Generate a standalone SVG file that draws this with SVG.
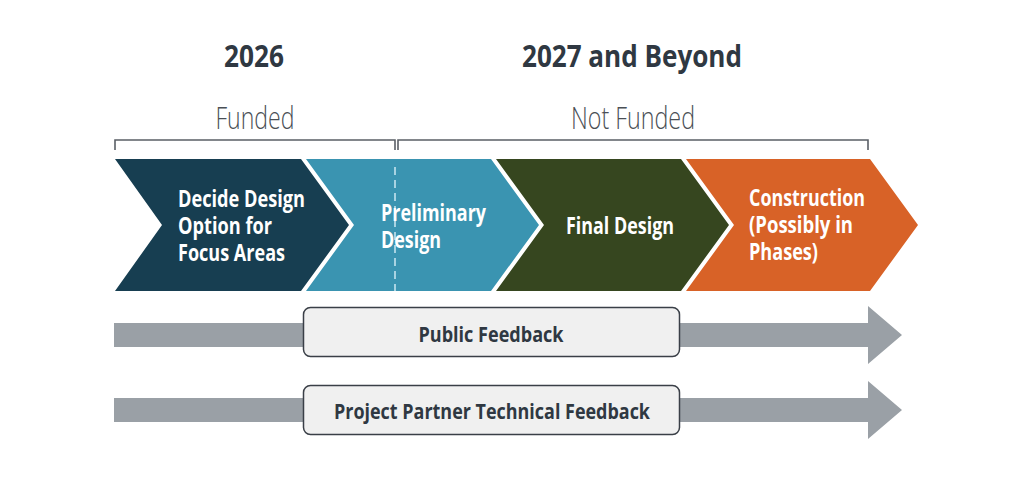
<svg xmlns="http://www.w3.org/2000/svg" width="1024" height="478" viewBox="0 0 1024 478">
<style>
.hd{font-family:"Open Sans","Liberation Sans",sans-serif;font-weight:700;font-size:30px;fill:#2f3842;text-anchor:middle}
.sub{font-family:"Open Sans","Liberation Sans",sans-serif;font-weight:300;font-size:31px;fill:#4a4f55;text-anchor:middle}
.ct{font-family:"Open Sans","Liberation Sans",sans-serif;font-weight:700;font-size:23px;fill:#ffffff}
.bt{font-family:"Open Sans","Liberation Sans",sans-serif;font-weight:700;font-size:22px;fill:#2f3842;text-anchor:middle}
.br{fill:none;stroke:#5a5f66;stroke-width:1.6}
.arr{fill:#9aa0a6}
.box{fill:#f0f0f0;stroke:#3a3f47;stroke-width:1.5}
</style>
<rect width="1024" height="478" fill="#ffffff"/>
<g id="headers">
<text class="hd" x="254" y="67" textLength="60" lengthAdjust="spacingAndGlyphs">2026</text>
<text class="hd" x="632" y="67" textLength="220" lengthAdjust="spacingAndGlyphs">2027 and Beyond</text>
<text class="sub" x="255" y="129" textLength="79" lengthAdjust="spacingAndGlyphs">Funded</text>
<text class="sub" x="633" y="129" textLength="124" lengthAdjust="spacingAndGlyphs">Not Funded</text>
</g>
<g id="brackets">
<path class="br" d="M115,150 V140 H395 V150"/>
<path class="br" d="M398,150 V140 H868 V150"/>
</g>
<g id="step1">
<polygon points="115,159 301,159 349,225 301,291 115,291 162,225" fill="#173e51"/>
<text class="ct" x="178" y="207" textLength="127" lengthAdjust="spacingAndGlyphs">Decide Design</text>
<text class="ct" x="178" y="234" textLength="94" lengthAdjust="spacingAndGlyphs">Option for</text>
<text class="ct" x="178" y="261" textLength="107" lengthAdjust="spacingAndGlyphs">Focus Areas</text>
</g>
<g id="step2">
<polygon points="306,159 491,159 539,225 491,291 306,291 354,225" fill="#3a94b1"/>
<line x1="395" y1="167" x2="395" y2="291" stroke="#a8d3e2" stroke-width="2" stroke-dasharray="8,5"/>
<text class="ct" x="381" y="221" textLength="105" lengthAdjust="spacingAndGlyphs">Preliminary</text>
<text class="ct" x="381" y="248" textLength="60" lengthAdjust="spacingAndGlyphs">Design</text>
</g>
<g id="step3">
<polygon points="496,159 681,159 729,225 681,291 496,291 544,225" fill="#36461f"/>
<text class="ct" x="566" y="234" textLength="108" lengthAdjust="spacingAndGlyphs">Final Design</text>
</g>
<g id="step4">
<polygon points="686,159 870,159 918,225 870,291 686,291 734,225" fill="#d86227"/>
<text class="ct" x="749" y="206" textLength="116" lengthAdjust="spacingAndGlyphs">Construction</text>
<text class="ct" x="749" y="233" textLength="104" lengthAdjust="spacingAndGlyphs">(Possibly in</text>
<text class="ct" x="749" y="260" textLength="69" lengthAdjust="spacingAndGlyphs">Phases)</text>
</g>
<g id="connectors">
<polygon class="arr" points="114,323 868,323 868,306 902,335 868,364 868,347 114,347"/>
<polygon class="arr" points="114,398 868,398 868,381 902,410 868,439 868,422 114,422"/>
</g>
<g id="public-feedback">
<rect class="box" x="303.5" y="307.5" width="376" height="49" rx="7"/>
<text class="bt" x="491" y="342" textLength="145" lengthAdjust="spacingAndGlyphs">Public Feedback</text>
</g>
<g id="partner-feedback">
<rect class="box" x="303.5" y="385.5" width="376" height="49" rx="7"/>
<text class="bt" x="492" y="419" textLength="316" lengthAdjust="spacingAndGlyphs">Project Partner Technical Feedback</text>
</g>
</svg>
